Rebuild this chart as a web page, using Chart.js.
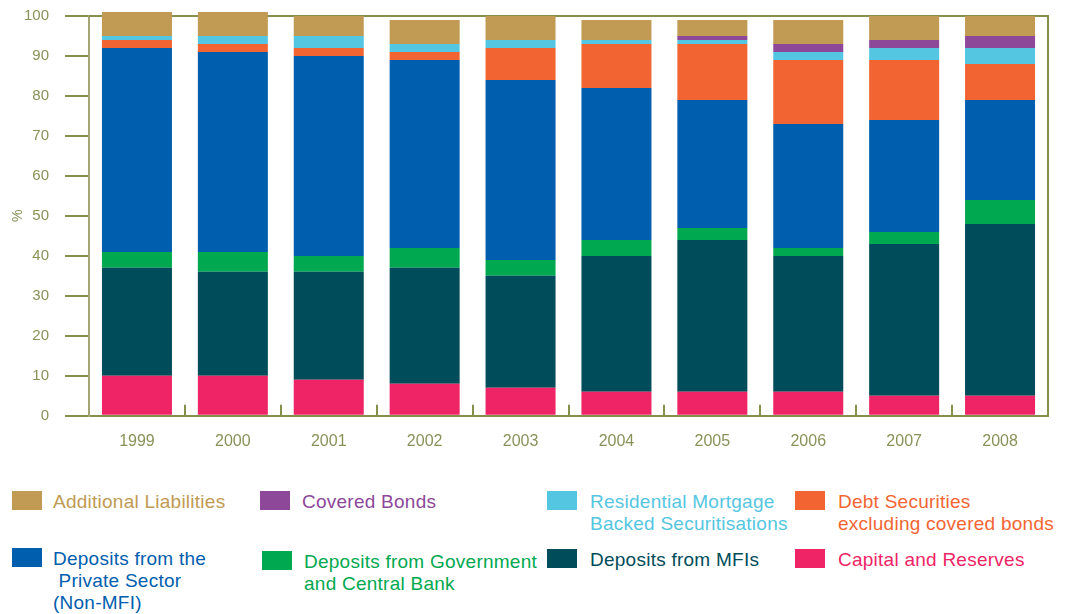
<!DOCTYPE html>
<html>
<head>
<meta charset="utf-8">
<script src="https://cdn.jsdelivr.net/npm/chart.js@4.4.1/dist/chart.umd.min.js"></script>
<style>
  body { margin: 0; background: #fff; }
  #wrap { position: relative; width: 1065px; height: 614px; overflow: hidden; font-family: "Liberation Sans", Arial, sans-serif; }
  #chart { position: absolute; left: 0; top: -9px; }
  .key { position: absolute; font-size: 19px; line-height: 22px; letter-spacing: 0.25px; white-space: pre; }
  .sw { position: absolute; width: 30px; height: 19px; }
</style>
</head>
<body>
<div id="wrap">
  <canvas id="chart" width="1065" height="480"></canvas>
</div>
<script>
const years = ["1999", "2000", "2001", "2002", "2003", "2004", "2005", "2006", "2007", "2008"];

// stacked from the bottom up, % of total liabilities
const capitalReserves = [10, 10, 9, 8, 7, 6, 6, 6, 5, 5];
const depositsMFI = [27, 26, 27, 29, 28, 34, 38, 34, 38, 43];
const depositsGov = [4, 5, 4, 5, 4, 4, 3, 2, 3, 6];
const depositsPrivate = [51, 50, 50, 47, 45, 38, 32, 31, 28, 25];
const debtSecurities = [2, 2, 2, 2, 8, 11, 14, 16, 15, 9];
const rmbs = [1, 2, 3, 2, 2, 1, 1, 2, 3, 4];
const coveredBonds = [0, 0, 0, 0, 0, 0, 1, 2, 2, 3];
const additionalLiab = [6, 6, 5, 6, 6, 5, 4, 6, 6, 5];

const yTicks = [0, 10, 20, 30, 40, 50, 60, 70, 80, 90, 100];

const axisColor = '#868f4c';
const labelColor = '#8a9158';

const series = [
  { label: 'Capital and Reserves', text: 'Capital and Reserves', data: capitalReserves, color: '#ee2466' },
  { label: 'Deposits from MFIs', text: 'Deposits from MFIs', data: depositsMFI, color: '#004c5a' },
  { label: 'Deposits from Government and Central Bank', text: 'Deposits from Government\nand Central Bank', data: depositsGov, color: '#00a94f' },
  { label: 'Deposits from the Private Sector (Non-MFI)', text: 'Deposits from the\n Private Sector\n(Non-MFI)', data: depositsPrivate, color: '#005eae' },
  { label: 'Debt Securities excluding covered bonds', text: 'Debt Securities\nexcluding covered bonds', data: debtSecurities, color: '#f26532' },
  { label: 'Residential Mortgage Backed Securitisations', text: 'Residential Mortgage\nBacked Securitisations', data: rmbs, color: '#55c6e1' },
  { label: 'Covered Bonds', text: 'Covered Bonds', data: coveredBonds, color: '#8d4899' },
  { label: 'Additional Liabilities', text: 'Additional Liabilities', data: additionalLiab, color: '#c19a53' }
];

// legend grid: [series index, swatch x, text x, top y]
const legendSpots = [
  [7, 12, 53, 491], [6, 260, 302, 491], [5, 547, 590, 491], [4, 795, 838, 491],
  [3, 12, 53, 548], [2, 262, 304, 551], [1, 547, 590, 549], [0, 795, 838, 549]
];

const wrap = document.getElementById('wrap');
legendSpots.forEach(([i, sx, tx, ty]) => {
  const s = series[i];
  const sw = document.createElement('div');
  sw.className = 'sw';
  sw.style.left = sx + 'px';
  sw.style.top = ty + 'px';
  sw.style.background = s.color;
  wrap.appendChild(sw);
  const t = document.createElement('div');
  t.className = 'key';
  t.style.left = tx + 'px';
  t.style.top = ty + 'px';
  t.style.color = s.color;
  t.textContent = s.text;
  wrap.appendChild(t);
});

const frame = {
  id: 'frame',
  beforeDatasetsDraw(chart) {
    const { ctx, chartArea: a, scales: { x } } = chart;
    const step = x.width / years.length;
    ctx.save();
    ctx.strokeStyle = axisColor;
    ctx.lineWidth = 2;
    ctx.beginPath();
    ctx.moveTo(a.left, a.top);
    ctx.lineTo(a.right, a.top);
    ctx.lineTo(a.right, a.bottom);
    for (let i = 1; i < years.length; i++) {
      const px = Math.round(x.getPixelForValue(i) - step / 2);
      ctx.moveTo(px, a.bottom);
      ctx.lineTo(px, a.bottom - 11);
    }
    ctx.stroke();
    ctx.restore();
  }
};

new Chart(document.getElementById('chart').getContext('2d'), {
  type: 'bar',
  data: {
    labels: years,
    datasets: series.map(s => ({
      label: s.label,
      data: s.data,
      backgroundColor: s.color,
      borderWidth: 0,
      barPercentage: 0.73,
      categoryPercentage: 1,
      clip: false
    }))
  },
  options: {
    responsive: false,
    animation: false,
    layout: { padding: { top: 5, right: 17, bottom: 4, left: 0 } },
    plugins: { legend: { display: false }, tooltip: { enabled: false } },
    scales: {
      x: {
        stacked: true,
        grid: { display: false, drawTicks: false },
        border: { color: axisColor, width: 2 },
        ticks: {
          color: labelColor,
          padding: 16,
          font: { family: '"Liberation Sans", Arial', size: 16 }
        }
      },
      y: {
        stacked: true,
        min: 0,
        max: 100,
        afterBuildTicks: s => { s.ticks = yTicks.map(v => ({ value: v })); },
        afterFit: s => { s.width = 89; },
        grid: { drawOnChartArea: false, tickLength: 24, color: axisColor, lineWidth: 2 },
        border: { color: '#a3a673', width: 2 },
        ticks: {
          color: labelColor,
          padding: 16,
          font: { family: '"Liberation Sans", Arial', size: 15 }
        },
        title: {
          display: true,
          text: '%',
          color: labelColor,
          padding: { top: 10, bottom: 0 },
          font: { family: '"Liberation Sans", Arial', size: 14 }
        }
      }
    }
  },
  plugins: [frame]
});
</script>
</body>
</html>
